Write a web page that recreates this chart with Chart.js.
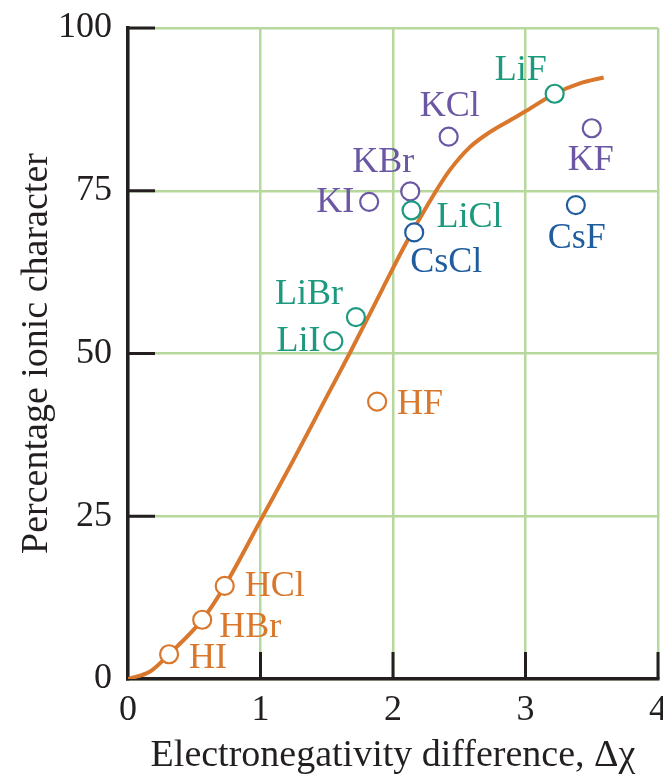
<!DOCTYPE html>
<html lang="en">
<head>
    <meta charset="UTF-8">
    <title>Percentage ionic character vs electronegativity difference</title>
    <script src="https://cdn.jsdelivr.net/npm/chart.js"></script>
    <style>
        body {
            margin: 0;
            background: white;
            overflow: hidden;
        }
        .wrap {
            width: 680px;
            height: 779px;
        }
    </style>
</head>
<body>
    <div class="wrap">
        <canvas id="ionicChart" width="680" height="779"></canvas>
    </div>

    <script>
        // Compounds
        const compounds = ['HI', 'HBr', 'HCl', 'HF', 'LiI', 'LiBr', 'KI', 'KBr', 'LiCl', 'CsCl', 'KCl', 'LiF', 'KF', 'CsF'];
        const deltaChi = [0.31, 0.56, 0.73, 1.88, 1.55, 1.72, 1.82, 2.13, 2.14, 2.16, 2.42, 3.22, 3.50, 3.38];
        const ionicPct = [3.8, 9.1, 14.3, 42.6, 51.9, 55.6, 73.3, 74.9, 72.0, 68.6, 83.3, 89.9, 84.6, 72.8];
        const family = ['H', 'H', 'H', 'H', 'Li', 'Li', 'K', 'K', 'Li', 'Cs', 'K', 'Li', 'K', 'Cs'];

        // Trend curve, read point by point
        const curveX = [0, 0.17, 0.31, 0.56, 0.73, 1.02, 1.25, 1.48, 1.68, 1.92, 2.1, 2.32, 2.43, 2.58, 2.73, 2.89, 3.0, 3.22, 3.41, 3.59];
        const curveY = [0, 1.2, 3.8, 9.1, 14.3, 25.1, 33.7, 42.6, 50.3, 59.9, 67.0, 74.8, 78.2, 81.7, 84.0, 85.9, 87.2, 89.9, 91.5, 92.4];

        const xTicks = [0, 1, 2, 3, 4];
        const yTicks = [0, 25, 50, 75, 100];

        const familyColor = {
            H: '#d9782c',
            Li: '#1c9a7e',
            K: '#6b57a3',
            Cs: '#1f5d9f'
        };

        // label placement in pixels relative to the circle: [dx, dy, align]
        const labelPlace = {
            HI: [20, 4, 'left'],
            HBr: [17, 8, 'left'],
            HCl: [20, 1, 'left'],
            HF: [20, 3, 'left'],
            LiI: [-13, 0, 'right'],
            LiBr: [-13, -22, 'right'],
            KI: [-15, 1, 'right'],
            KBr: [-27, -29, 'center'],
            LiCl: [25, 7, 'left'],
            CsCl: [-4, 30, 'left'],
            KCl: [1, -30, 'center'],
            LiF: [-8, -23, 'right'],
            KF: [-1, 32, 'center'],
            CsF: [1, 33, 'center']
        };

        const serif = '"Liberation Serif", "DejaVu Serif", serif';
        const ink = '#231f20';
        const gridGreen = '#b7d89c';

        const pointData = deltaChi.map((x, i) => ({ x: x, y: ionicPct[i] }));
        const pointColors = family.map(f => familyColor[f]);
        const curveData = curveX.map((x, i) => ({ x: x, y: curveY[i] }));

        // short black ticks pointing into the plot
        const innerTicks = {
            id: 'innerTicks',
            beforeDatasetsDraw(chart) {
                const ctx = chart.ctx;
                const xs = chart.scales.x, ys = chart.scales.y;
                const len = 27;
                ctx.save();
                ctx.strokeStyle = ink;
                ctx.lineWidth = 3;
                ctx.beginPath();
                yTicks.slice(1).forEach(v => {
                    const py = ys.getPixelForValue(v);
                    ctx.moveTo(xs.left, py);
                    ctx.lineTo(xs.left + len, py);
                });
                xTicks.slice(1).forEach(v => {
                    const px = xs.getPixelForValue(v);
                    ctx.moveTo(px, ys.bottom);
                    ctx.lineTo(px, ys.bottom - len);
                });
                ctx.stroke();
                ctx.restore();
            }
        };

        const compoundLabels = {
            id: 'compoundLabels',
            afterDatasetsDraw(chart) {
                const ctx = chart.ctx;
                const xs = chart.scales.x, ys = chart.scales.y;
                ctx.save();
                ctx.font = '36px ' + serif;
                ctx.textBaseline = 'middle';
                compounds.forEach((name, i) => {
                    const p = labelPlace[name];
                    ctx.fillStyle = familyColor[family[i]];
                    ctx.textAlign = p[2];
                    ctx.fillText(name, xs.getPixelForValue(deltaChi[i]) + p[0], ys.getPixelForValue(ionicPct[i]) + p[1]);
                });
                ctx.restore();
            }
        };

        new Chart(document.getElementById('ionicChart'), {
            type: 'scatter',
            data: {
                datasets: [
                    {
                        type: 'line',
                        data: curveData,
                        borderColor: '#d9782c',
                        borderWidth: 4,
                        pointRadius: 0,
                        cubicInterpolationMode: 'monotone',
                        fill: false,
                        order: 2
                    },
                    {
                        data: pointData,
                        pointStyle: 'circle',
                        pointRadius: 9,
                        pointBorderWidth: 2.2,
                        pointBorderColor: pointColors,
                        pointBackgroundColor: 'white',
                        order: 1
                    }
                ]
            },
            options: {
                responsive: false,
                animation: false,
                layout: {
                    padding: { top: 28, right: 22, left: 0, bottom: 0 }
                },
                plugins: {
                    legend: { display: false },
                    tooltip: { enabled: false }
                },
                scales: {
                    x: {
                        type: 'linear',
                        min: 0,
                        max: 4,
                        afterBuildTicks: s => { s.ticks = xTicks.map(v => ({ value: v })); },
                        afterFit: s => { s.height = 100; },
                        grid: { color: gridGreen, lineWidth: 2.5, drawTicks: false },
                        border: { color: ink, width: 3.5 },
                        ticks: {
                            color: ink,
                            padding: 10,
                            font: { family: serif, size: 36 }
                        },
                        title: {
                            display: true,
                            text: 'Electronegativity difference, \u0394\u03c7',
                            color: ink,
                            font: { family: serif, size: 38 },
                            padding: { top: 0, bottom: 0 }
                        }
                    },
                    y: {
                        type: 'linear',
                        min: 0,
                        max: 100,
                        afterBuildTicks: s => { s.ticks = yTicks.map(v => ({ value: v })); },
                        afterFit: s => { s.width = 128; s.paddingTop = 0; s.paddingBottom = 0; },
                        grid: { color: gridGreen, lineWidth: 2.5, drawTicks: false },
                        border: { color: ink, width: 3.5 },
                        ticks: {
                            color: ink,
                            padding: 16,
                            font: { family: serif, size: 36 }
                        },
                        title: {
                            display: true,
                            text: 'Percentage ionic character',
                            color: ink,
                            font: { family: serif, size: 38 },
                            padding: { top: 14, bottom: 0 }
                        }
                    }
                }
            },
            plugins: [innerTicks, compoundLabels]
        });
    </script>
</body>
</html>
